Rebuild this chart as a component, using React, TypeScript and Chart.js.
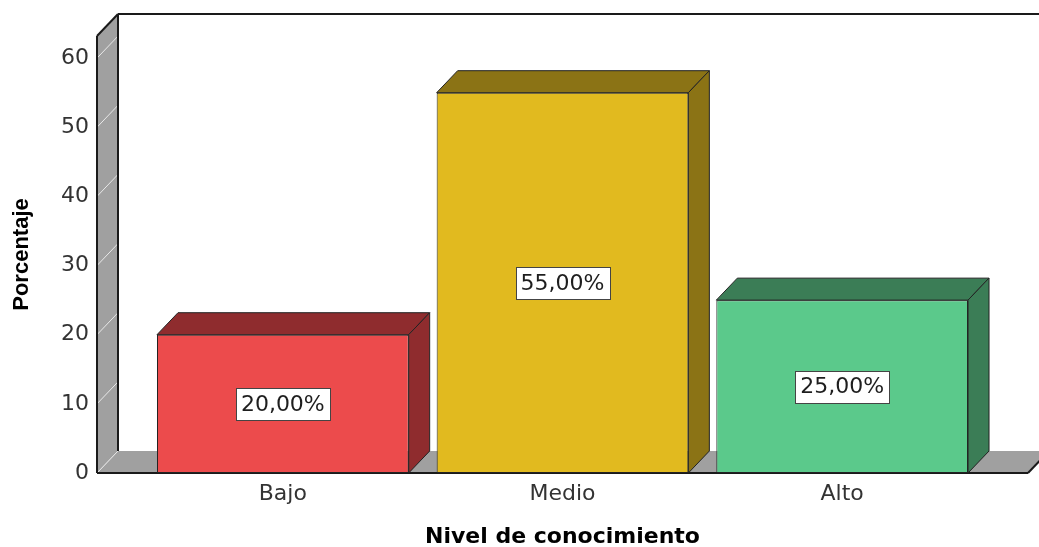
import { useEffect, useRef } from 'react';
import { Chart, registerables } from 'chart.js';

Chart.register(...registerables);

const categories = ['Bajo', 'Medio', 'Alto'];
const percentages = [20, 55, 25];
const frontColors = ['#EC4B4C', '#E1BA1F', '#5BC98B'];
const sideColors = ['#8F2C2E', '#8B7315', '#3B7D56'];
const yTickStep = 10;
const yAxisMax = 63.2;
const xTitle = 'Nivel de conocimiento';
const yTitle = 'Porcentaje';

const DX = 21;
const DY = 22;
const WALL_GAP = 46;
const AREA_TOP = 36;

const line = (ctx: CanvasRenderingContext2D, x1: number, y1: number, x2: number, y2: number) => {
  ctx.beginPath();
  ctx.moveTo(x1, y1);
  ctx.lineTo(x2, y2);
  ctx.stroke();
};

const threeD = {
  id: 'threeD',
  beforeDatasetsDraw(chart: any) {
    const { ctx, chartArea, scales } = chart;
    const { left: L, right: R, top: T, bottom: B } = chartArea;
    const y = scales.y;
    const fx = L - WALL_GAP;
    const bx = fx + DX;
    const fr = R + WALL_GAP;
    ctx.save();
    ctx.fillStyle = '#A0A0A0';
    // left wall
    ctx.beginPath();
    ctx.moveTo(fx, B);
    ctx.lineTo(fx, T);
    ctx.lineTo(bx, T - DY);
    ctx.lineTo(bx, B - DY);
    ctx.closePath();
    ctx.fill();
    // floor
    ctx.beginPath();
    ctx.moveTo(fx, B);
    ctx.lineTo(bx, B - DY);
    ctx.lineTo(fr + DX, B - DY);
    ctx.lineTo(fr, B);
    ctx.closePath();
    ctx.fill();
    // wall gridlines
    ctx.strokeStyle = '#E8E8E8';
    ctx.lineWidth = 1;
    y.ticks.forEach((t: any) => {
      const py = y.getPixelForValue(t.value);
      line(ctx, fx, py, bx, py - DY);
    });
    // outlines
    ctx.strokeStyle = '#1A1A1A';
    ctx.lineWidth = 2;
    line(ctx, fx, T, fx, B);
    line(ctx, fx, T, bx, T - DY);
    line(ctx, bx, T - DY, bx, B - DY);
    line(ctx, bx, T - DY, chart.width + 5, T - DY);
    line(ctx, fx, B, fr, B);
    line(ctx, fr, B, fr + DX, B - DY);

    // bar top and side faces
    const meta = chart.getDatasetMeta(0);
    ctx.lineWidth = 1;
    ctx.strokeStyle = '#222222';
    ctx.lineJoin = 'round';
    meta.data.forEach((bar: any, i: number) => {
      const { x, y: top, base, width } = bar.getProps(['x', 'y', 'base', 'width'], true);
      const l = x - width / 2;
      const r = x + width / 2;
      ctx.fillStyle = sideColors[i];
      ctx.beginPath();
      ctx.moveTo(l, top);
      ctx.lineTo(l + DX, top - DY);
      ctx.lineTo(r + DX, top - DY);
      ctx.lineTo(r, top);
      ctx.closePath();
      ctx.fill();
      ctx.stroke();
      ctx.beginPath();
      ctx.moveTo(r, top);
      ctx.lineTo(r + DX, top - DY);
      ctx.lineTo(r + DX, base - DY);
      ctx.lineTo(r, base);
      ctx.closePath();
      ctx.fill();
      ctx.stroke();
    });
    ctx.restore();
  },
  afterDatasetsDraw(chart: any) {
    const { ctx } = chart;
    const meta = chart.getDatasetMeta(0);
    ctx.save();
    ctx.font = '22px "DejaVu Sans"';
    ctx.textAlign = 'center';
    ctx.textBaseline = 'middle';
    meta.data.forEach((bar: any, i: number) => {
      const { x, y: top, base } = bar.getProps(['x', 'y', 'base'], true);
      const text = percentages[i].toFixed(2).replace('.', ',') + '%';
      const tw = ctx.measureText(text).width;
      const bw = Math.round(tw + 10);
      const bh = 32;
      const cy = (top + base) / 2;
      const bxl = Math.round(x - bw / 2) + 0.5;
      const byt = Math.round(cy - bh / 2) + 0.5;
      ctx.fillStyle = '#FFFFFF';
      ctx.fillRect(bxl, byt, bw, bh);
      ctx.strokeStyle = '#444444';
      ctx.lineWidth = 1;
      ctx.strokeRect(bxl, byt, bw, bh);
      ctx.fillStyle = '#1E1E1E';
      ctx.fillText(text, x, cy + 1);
    });
    ctx.restore();
  },
};

export default function App() {
  const ref = useRef<HTMLCanvasElement>(null);
  useEffect(() => {
    const chart = new Chart(ref.current as HTMLCanvasElement, {
      type: 'bar',
      data: {
        labels: categories,
        datasets: [
          {
            data: percentages,
            backgroundColor: frontColors,
            borderColor: '#222222',
            borderWidth: 1,
            borderSkipped: false,
            categoryPercentage: 1,
            barPercentage: 0.9,
          },
        ],
      },
      options: {
        responsive: false,
        animation: false,
        devicePixelRatio: 1,
        layout: { padding: { top: AREA_TOP, right: 57, left: 0, bottom: 0 } },
        plugins: { legend: { display: false }, tooltip: { enabled: false } },
        scales: {
          x: {
            type: 'category',
            offset: true,
            grid: { display: false, drawTicks: false },
            border: { display: false },
            ticks: { color: '#333333', font: { family: 'DejaVu Sans', size: 22 }, padding: 8 },
            title: {
              display: true,
              text: xTitle,
              color: '#000000',
              font: { family: 'DejaVu Sans', size: 22, weight: 'bold', lineHeight: 0.85 },
              padding: { top: 0, bottom: 0 },
            },
            afterFit: (s: any) => {
              s.height = 74;
            },
          },
          y: {
            min: 0,
            max: yAxisMax,
            grid: { display: false, drawTicks: false },
            border: { display: false },
            ticks: {
              stepSize: yTickStep,
              includeBounds: false,
              color: '#333333',
              font: { family: 'DejaVu Sans', size: 22 },
              padding: 54,
            },
            title: {
              display: true,
              text: yTitle,
              color: '#000000',
              font: { family: 'Liberation Sans', size: 22, weight: 'bold' },
              padding: { top: 9, bottom: 0 },
            },
            afterFit: (s: any) => {
              s.width = 143;
              s.paddingTop = 0;
              s.paddingBottom = 0;
            },
          },
        },
      },
      plugins: [
        threeD,
        {
          id: 'fixArea',
          afterLayout(chart: any) {
            const ca = chart.chartArea;
            const diff = ca.top - AREA_TOP;
            if (diff !== 0) {
              ca.top = AREA_TOP;
              ca.height = ca.bottom - ca.top;
              const y = chart.scales.y;
              y.top = AREA_TOP;
              y.height = y.bottom - y.top;
              y.configure();
              y._startPixel = y.top;
              y._endPixel = y.bottom;
              y._length = y.bottom - y.top;
            }
          },
        },
      ],
    } as any);
    return () => chart.destroy();
  }, []);
  return (
    <div style={{ position: 'fixed', left: 0, top: 0, width: 1039, height: 547, background: '#FFFFFF' }}>
      <canvas ref={ref} width={1039} height={547} style={{ display: 'block' }} />
    </div>
  );
}
